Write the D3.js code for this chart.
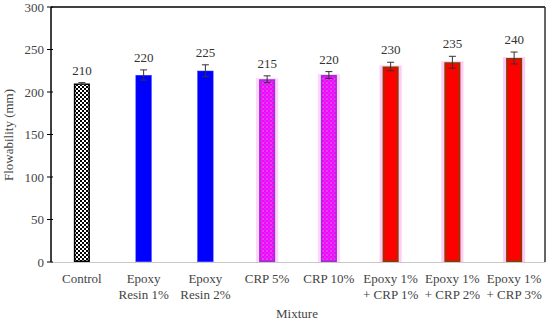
<!DOCTYPE html>
<html><head><meta charset="utf-8">
<script src="https://cdn.jsdelivr.net/npm/d3@7"></script>
<style>body{margin:0;background:#fff}svg{display:block}text{font-family:"Liberation Serif","Times New Roman",serif;}</style>
</head><body><svg id="c" width="550" height="323"></svg>
<script>
const categories = [["Control"],["Epoxy","Resin 1%"],["Epoxy","Resin 2%"],["CRP 5%"],["CRP 10%"],["Epoxy 1%","+ CRP 1%"],["Epoxy 1%","+ CRP 2%"],["Epoxy 1%","+ CRP 3%"]];
const values = [210,220,225,215,220,230,235,240];
const errors = [1,6,7,4,4,5,7,7];
const groups = ["control","epoxy","epoxy","crp","crp","mix","mix","mix"];
const yTicks = [0,50,100,150,200,250,300];

const svg = d3.select("#c");
const m = {l:51, r:545, t:7, b:262};
const x = d3.scaleBand().domain(d3.range(categories.length)).range([m.l, m.r]).paddingInner(0.74).paddingOuter(0.37);
const y = d3.scaleLinear().domain([0,300]).range([m.b, m.t]);

const defs = svg.append("defs");
const pc = defs.append("pattern").attr("id","chk").attr("width",4).attr("height",4).attr("patternUnits","userSpaceOnUse");
pc.append("rect").attr("width",4).attr("height",4).attr("fill","#fff");
pc.append("rect").attr("width",2).attr("height",2).attr("fill","#000");
pc.append("rect").attr("x",2).attr("y",2).attr("width",2).attr("height",2).attr("fill","#000");
const pm = defs.append("pattern").attr("id","mag").attr("width",4).attr("height",4).attr("patternUnits","userSpaceOnUse");
pm.append("rect").attr("width",4).attr("height",4).attr("fill","#ff00ff");
pm.append("rect").attr("width",2).attr("height",2).attr("fill","#cc33ee");
pm.append("rect").attr("x",2).attr("y",2).attr("width",2).attr("height",2).attr("fill","#e040f8");

// frame
svg.append("line").attr("x1",m.l).attr("x2",m.r).attr("y1",m.t).attr("y2",m.t).attr("stroke","#000").attr("stroke-width",1.5);
svg.append("line").attr("x1",m.r).attr("x2",m.r).attr("y1",m.t).attr("y2",m.b).attr("stroke","#333").attr("stroke-width",1.5);
svg.append("line").attr("x1",m.l).attr("x2",m.r).attr("y1",m.b+0.5).attr("y2",m.b+0.5).attr("stroke","#c8c8c8").attr("stroke-width",1);

const style = {
  control:{fill:"url(#chk)", stroke:"#000", sw:1.5, halo:null},
  epoxy:{fill:"#0000ff", stroke:"#3333ff", sw:0.5, halo:null},
  crp:{fill:"url(#mag)", stroke:"#9933cc", sw:1.5, halo:"#ffd6fb"},
  mix:{fill:"#ff0000", stroke:"#993300", sw:2, halo:"#ffccf5"}
};

const g = svg.append("g");
values.forEach((v,i)=>{
  const s = style[groups[i]];
  const bx = x(i), bw = x.bandwidth();
  if (s.halo) g.append("rect").attr("x",bx-3).attr("y",y(v)-1).attr("width",bw+6).attr("height",y(0)-y(v)+1).attr("fill",s.halo);
  g.append("rect").attr("x",bx+s.sw/2).attr("y",y(v)+s.sw/2).attr("width",bw-s.sw).attr("height",y(0)-y(v)-s.sw)
    .attr("fill",s.fill).attr("stroke",s.stroke).attr("stroke-width",s.sw);
  const cx = bx + bw/2, e = errors[i];
  const ec = "#333";
  g.append("line").attr("x1",cx).attr("x2",cx).attr("y1",y(v+e)).attr("y2",y(v-e)).attr("stroke",ec).attr("stroke-width",1);
  [v+e, v-e].forEach(t=>g.append("line").attr("x1",cx-3.5).attr("x2",cx+3.5).attr("y1",y(t)).attr("y2",y(t)).attr("stroke",ec).attr("stroke-width",1));
  g.append("text").attr("x",cx).attr("y",y(v+e)-8).attr("text-anchor","middle").attr("font-size",13).attr("fill","#333").text(v);
});

// y axis
const ya = svg.append("g").attr("transform",`translate(${m.l},0)`);
ya.append("line").attr("y1",m.t).attr("y2",m.b).attr("stroke","#000").attr("stroke-width",1.5);
yTicks.forEach(t=>{
  ya.append("line").attr("x1",-4).attr("x2",2).attr("y1",y(t)).attr("y2",y(t)).attr("stroke","#000").attr("stroke-width",1);
  ya.append("text").attr("x",-7).attr("y",y(t)).attr("dy","0.35em").attr("text-anchor","end").attr("font-size",13).attr("fill","#444").text(t);
});

// x labels
categories.forEach((lines,i)=>{
  const cx = x(i)+x.bandwidth()/2;
  lines.forEach((ln,j)=>svg.append("text").attr("x",cx).attr("y",283+j*16).attr("text-anchor","middle").attr("font-size",13).attr("fill","#444").text(ln));
});

svg.append("text").attr("x",297).attr("y",318).attr("text-anchor","middle").attr("font-size",13).attr("fill","#444").text("Mixture");
svg.append("text").attr("transform",`translate(13,135) rotate(-90)`).attr("text-anchor","middle").attr("font-size",13).attr("fill","#444").text("Flowability (mm)");
</script></body></html>
